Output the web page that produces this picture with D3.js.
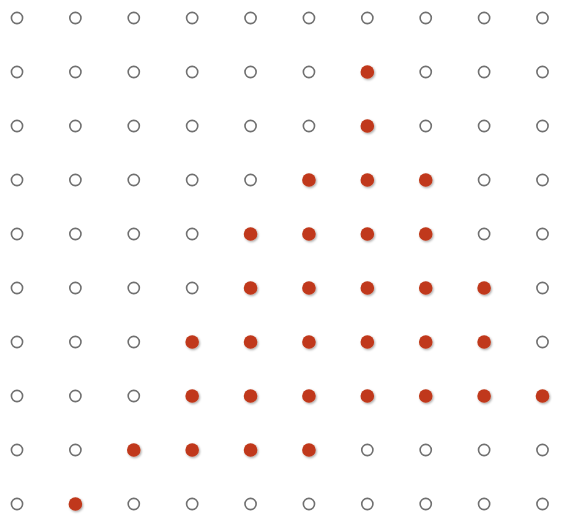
<!DOCTYPE html>
<html lang="en">
	<head>
		<meta charset="utf-8">
		<title>Dot grid</title>
		<script type="text/javascript" src="https://cdn.jsdelivr.net/npm/d3@7"></script>
		<style type="text/css">
			body { margin: 0; background: #fff; }
		</style>
	</head>
	<body>
		<script type="text/javascript">

			//Width and height
			var w = 568;
			var h = 522;

			var columns = [0, 1, 2, 3, 4, 5, 6, 7, 8, 9];
			var rows = [0, 1, 2, 3, 4, 5, 6, 7, 8, 9];

			// filled rows (0 = top) for each column
			var filled = [
				[],
				[9],
				[8],
				[6, 7, 8],
				[4, 5, 6, 7, 8],
				[3, 4, 5, 6, 7, 8],
				[1, 2, 3, 4, 5, 6, 7],
				[3, 4, 5, 6, 7],
				[5, 6, 7],
				[7]
			];

			var xScale = d3.scalePoint()
							.domain(columns)
							.range([17, 542.5]);

			var yScale = d3.scalePoint()
							.domain(rows)
							.range([18, 504]);

			var cells = [];
			columns.forEach(function(c) {
				rows.forEach(function(r) {
					cells.push({ col: c, row: r, on: filled[c].indexOf(r) >= 0 });
				});
			});

			//Create SVG element
			var svg = d3.select("body")
						.append("svg")
						.attr("width", w)
						.attr("height", h);

			var filter = svg.append("defs")
							.append("filter")
							.attr("id", "shadow")
							.attr("x", "-50%").attr("y", "-50%")
							.attr("width", "200%").attr("height", "200%");
			filter.append("feDropShadow")
				.attr("dx", 1)
				.attr("dy", 1.2)
				.attr("stdDeviation", 1)
				.attr("flood-color", "#000")
				.attr("flood-opacity", 0.35);

			svg.selectAll("circle")
			   .data(cells)
			   .enter()
			   .append("circle")
			   .attr("cx", function(d) { return xScale(d.col); })
			   .attr("cy", function(d) { return yScale(d.row); })
			   .attr("r", function(d) { return d.on ? 6.8 : 5.6; })
			   .attr("fill", function(d) { return d.on ? "#c0391a" : "none"; })
			   .attr("stroke", function(d) { return d.on ? "none" : "#707070"; })
			   .attr("stroke-width", 1.6)
			   .attr("filter", function(d) { return d.on ? "url(#shadow)" : null; });

		</script>
	</body>
</html>
